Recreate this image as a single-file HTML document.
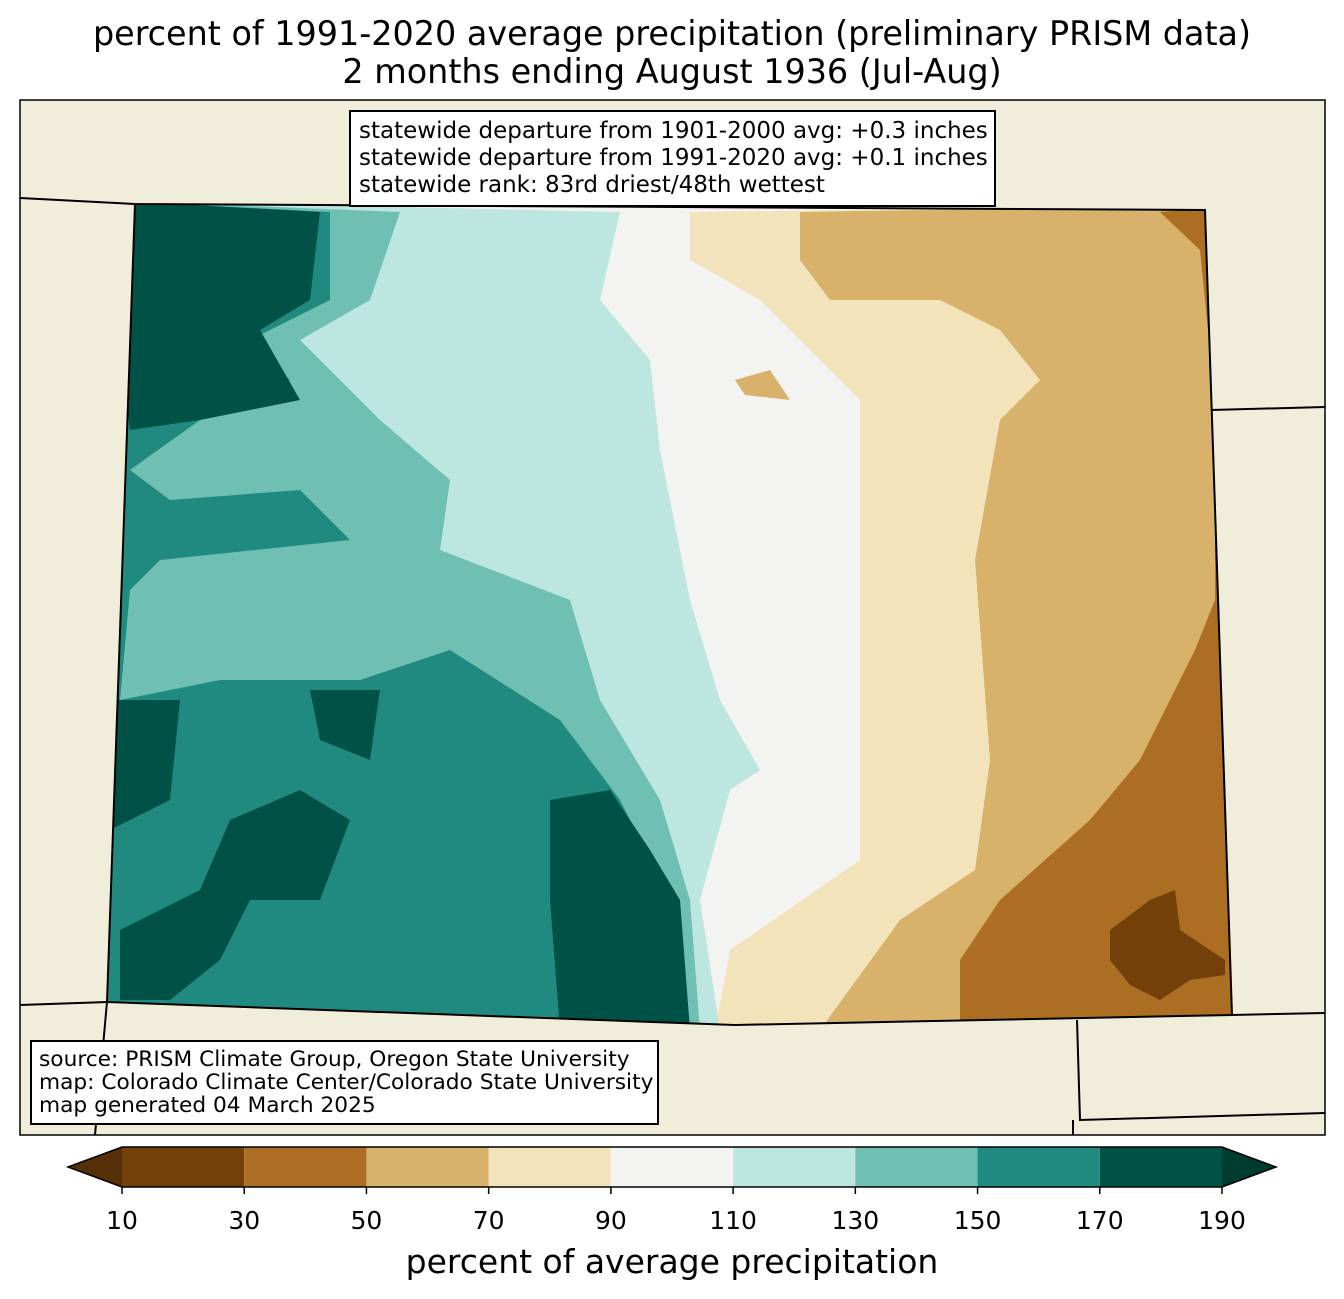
<!DOCTYPE html>
<html><head><meta charset="utf-8">
<style>
html,body{margin:0;padding:0;background:#fff;}
body{width:1344px;height:1299px;position:relative;overflow:hidden;font-family:"DejaVu Sans","Liberation Sans",sans-serif;}
.t{position:absolute;left:0;width:1344px;text-align:center;font-size:33.4px;color:#000;white-space:nowrap;}
</style></head><body>
<div class="t" style="top:14px">percent of 1991-2020 average precipitation (preliminary PRISM data)</div>
<div class="t" style="top:52px">2 months ending August 1936 (Jul-Aug)</div>
<svg id="s" width="1344" height="1299" style="position:absolute;left:0;top:0" xmlns="http://www.w3.org/2000/svg">
<defs><clipPath id="co"><polygon points="135,204 1205,210 1232,1015 735,1025 107,1002"/></clipPath></defs>
<g>
<rect x="20" y="100" width="1305" height="1035" fill="#f0eedb"/>
<g clip-path="url(#co)">
<rect x="100" y="200" width="1140" height="830" fill="#f3f4f2"/>
<polygon fill="#f2e3bb" points="690,212 1240,205 1240,1030 715,1030 730,950 860,860 860,400 760,300 690,260"/>
<polygon fill="#d8b26b" points="800,212 1240,205 1240,1030 820,1030 900,920 975,870 990,760 975,560 1000,420 1040,380 1000,330 940,300 830,300 800,260"/>
<polygon fill="#ab6e22" points="1160,212 1240,205 1240,1030 960,1030 960,960 1000,900 1090,820 1140,760 1195,650 1215,600 1215,400 1200,250"/>
<polygon fill="#734009" points="1110,930 1150,900 1175,890 1180,930 1225,960 1225,975 1190,980 1160,1000 1130,985 1110,960"/>
<polygon fill="#f2e3bb" points="885,340 940,330 960,380 920,400 890,380"/>
<polygon fill="#d8b26b" points="735,380 770,370 790,400 745,395"/>
<polygon fill="#bde6e0" points="100,200 620,212 600,300 650,360 660,450 690,600 720,700 760,770 730,790 700,900 720,1030 100,1030"/>
<polygon fill="#6fc0b3" points="100,200 400,212 370,300 300,340 380,420 450,480 440,550 570,600 600,700 660,800 690,900 700,1030 100,1030"/>
<polygon fill="#218a80" points="100,200 330,212 330,300 250,340 290,380 200,420 130,470 170,500 300,490 350,540 160,560 130,590 120,700 220,680 360,680 450,650 560,720 620,800 670,900 690,1030 100,1030"/>
<polygon fill="#015246" points="100,200 320,212 310,300 260,330 300,400 200,420 130,430"/>
<polygon fill="#015246" points="550,800 610,790 650,850 680,900 690,1030 560,1030 550,900"/>
<polygon fill="#015246" points="110,700 180,700 170,800 110,830"/>
<polygon fill="#015246" points="230,820 300,790 350,820 320,900 250,900 220,960 170,1000 120,1000 120,930 200,890"/>
<polygon fill="#015246" points="310,690 380,690 370,760 320,740"/>
</g>
<polyline fill="none" stroke="#000" stroke-width="2" points="20,198 135,204 1205,210 1232,1015 1325,1013"/>
<polyline fill="none" stroke="#000" stroke-width="2" points="1211,410 1325,407"/>
<polyline fill="none" stroke="#000" stroke-width="2" points="135,204 107,1002 20,1005"/>
<polyline fill="none" stroke="#000" stroke-width="2" points="107,1002 735,1025 1232,1015"/>
<polyline fill="none" stroke="#000" stroke-width="2" points="1077,1020 1080,1120 1325,1113"/>
<polyline fill="none" stroke="#000" stroke-width="2" points="107,1002 95,1135"/>
<polyline fill="none" stroke="#000" stroke-width="2" points="1073,1120 1073,1135"/>
<rect x="20" y="100" width="1305" height="1035" fill="none" stroke="#000" stroke-width="1.5"/>
</g>
<g>
<rect x="350" y="111" width="645" height="95" fill="#fff" stroke="#000" stroke-width="2"/>
<text x="359" y="138" font-size="23" font-family="DejaVu Sans,sans-serif">statewide departure from 1901-2000 avg: +0.3 inches</text>
<text x="359" y="165" font-size="23" font-family="DejaVu Sans,sans-serif">statewide departure from 1991-2020 avg: +0.1 inches</text>
<text x="359" y="192" font-size="23" font-family="DejaVu Sans,sans-serif">statewide rank: 83rd driest/48th wettest</text>
</g>
<g>
<rect x="31" y="1041" width="627" height="83" fill="#fff" stroke="#000" stroke-width="2"/>
<text x="39" y="1066" font-size="21.7" font-family="DejaVu Sans,sans-serif">source: PRISM Climate Group, Oregon State University</text>
<text x="39" y="1089" font-size="21.7" font-family="DejaVu Sans,sans-serif">map: Colorado Climate Center/Colorado State University</text>
<text x="39" y="1112" font-size="21.7" font-family="DejaVu Sans,sans-serif">map generated 04 March 2025</text>
</g>
<g id="cb"></g>
</svg>
<script>
const bounds = [10,30,50,70,90,110,130,150,170,190];
const binColors = ["#734009","#ab6e22","#d8b26b","#f2e3bb","#f3f4f2","#bde6e0","#6fc0b3","#218a80","#015246"];
const tickLabels = ["10","30","50","70","90","110","130","150","170","190"];
const underColor = "#553006", overColor = "#003b30";
const NS="http://www.w3.org/2000/svg";
const cb=document.getElementById('cb');
const x0=122,x1=1222,y0=1147,y1=1187;
const xs=v=>x0+(v-bounds[0])/(bounds[bounds.length-1]-bounds[0])*(x1-x0);
function mk(tag,a){const e=document.createElementNS(NS,tag);for(const k in a)e.setAttribute(k,a[k]);cb.appendChild(e);return e;}
let p=mk('polygon',{points:`${x0},${y0} ${x0},${y1} 68,${(y0+y1)/2}`,fill:underColor});


p=mk('polygon',{points:`${x1},${y0} ${x1},${y1} 1276,${(y0+y1)/2}`,fill:overColor});


binColors.forEach((c,i)=>{
 const r=mk('rect',{x:xs(bounds[i]),y:y0,width:xs(bounds[i+1])-xs(bounds[i]),height:y1-y0,fill:c});
 
 
});
mk('polygon',{points:`68,${(y0+y1)/2} ${x0},${y0} ${x1},${y0} 1276,${(y0+y1)/2} ${x1},${y1} ${x0},${y1}`,fill:'none',stroke:'#000','stroke-width':1.5});
tickLabels.forEach((t,i)=>{
 const x=xs(bounds[i]);
 mk('line',{x1:x,x2:x,y1:y1,y2:y1+7,stroke:'#000','stroke-width':1.5});
 const tx=mk('text',{x:x,y:1229,'text-anchor':'middle','font-size':25,'font-family':'DejaVu Sans,sans-serif'});
 tx.textContent=t;
 
 
});
const lab=mk('text',{x:672,y:1273,'text-anchor':'middle','font-size':33,'font-family':'DejaVu Sans,sans-serif'});
lab.textContent='percent of average precipitation';


</script>
</body></html>
